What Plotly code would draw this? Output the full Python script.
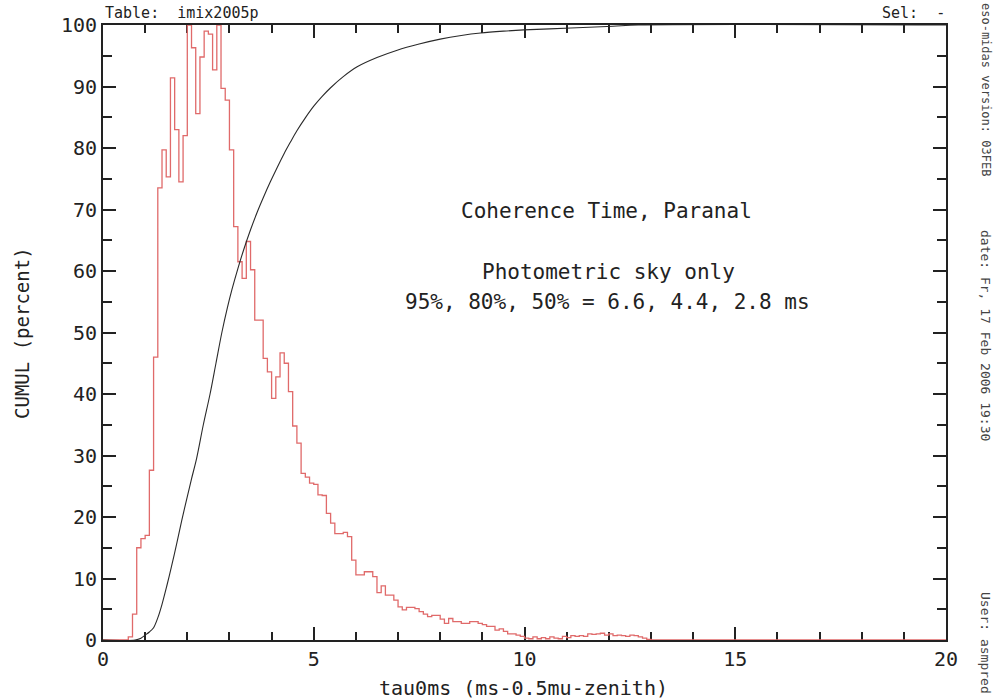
import numpy as np
import plotly.graph_objects as go

# ---- data ----
# histogram (normalised to peak = 100), bin width 0.1 ms, left bin edges from 0.6
hist_start = 0.6
hist_width = 0.1
hist_vals = [
    0.5, 4.2, 15.0, 16.5, 17.0, 27.6, 46.0, 73.5, 79.7, 75.3,
    91.4, 83.0, 74.5, 82.0, 100.0, 96.3, 85.6, 94.8, 99.0, 98.5,
    92.7, 100.0, 89.7, 87.8, 79.7, 67.2, 61.5, 58.8, 64.8, 60.2,
    52.0, 52.0, 45.8, 43.6, 39.3, 42.8, 46.7, 45.0, 40.4, 34.8,
    32.0, 27.1, 26.5, 25.5, 25.3, 23.6, 23.5, 20.6, 19.0, 17.3,
    17.3, 17.5, 16.8, 13.0, 10.6, 10.6, 11.1, 11.1, 10.3, 7.7,
    8.8, 7.3, 7.3, 6.5, 5.4, 4.9, 5.3, 5.3, 5.1, 4.6,
    4.2, 3.8, 4.0, 4.0, 3.4, 2.7, 3.5, 3.0, 3.0, 2.7,
    2.7, 3.0, 3.0, 2.7, 2.5, 2.2, 2.2, 1.6, 1.8, 1.4,
    1.0, 1.0, 0.8, 0.6, 0.3, 0.2, 0.5, 0.2, 0.4, 0.2,
    0.5, 0.3, 0.2, 0.6, 0.4, 0.7, 0.6, 0.7, 0.6, 1.0,
    0.9, 1.0, 1.1, 0.8, 1.0, 0.7, 0.8, 0.7, 0.6, 0.8,
    0.7, 0.5, 0.3, 0.1,
]

# cumulative distribution (percent)
cum_x = [0, 0.76, 0.9, 1.0, 1.1, 1.2, 1.31, 1.4, 1.51, 1.62, 1.75, 1.87, 2.0,
         2.1, 2.22, 2.38, 2.54, 2.68, 2.82, 2.95, 3.06, 3.2, 3.34, 3.5, 3.66,
         3.82, 3.97, 4.13, 4.29, 4.45, 4.6, 4.8, 5.0, 5.2, 5.4, 5.7, 6.03, 6.5,
         6.98, 7.5, 8.0, 8.5, 8.96, 9.5, 9.98, 11.1, 12.1, 12.7, 20]
cum_y = [0, 0, 0.3, 0.8, 1.3, 2.0, 3.8, 5.8, 8.7, 11.8, 15.7, 19.5, 23.3,
         26.2, 29.5, 35.0, 40.0, 45.0, 50.0, 54.0, 57.0, 60.4, 63.5, 66.7, 69.6,
         72.2, 74.5, 76.8, 79.0, 81.0, 82.8, 84.9, 86.8, 88.4, 89.8, 91.6, 93.2, 94.7,
         95.9, 96.9, 97.7, 98.3, 98.7, 99.0, 99.2, 99.5, 99.8, 100, 100]

x_range = [0, 20]
y_range = [0, 100]

# ---- build step line from bins ----
edges = [round(hist_start + i * hist_width, 2) for i in range(len(hist_vals))]
hx = [0.0] + edges + [round(edges[-1] + hist_width, 2), 20.0]
hy = [0.0] + hist_vals + [0.0, 0.0]

MONO = "DejaVu Sans Mono"
INK = "#222222"

fig = go.Figure()
fig.add_trace(go.Scatter(x=hx, y=hy, mode="lines", line_shape="hv",
                         line=dict(color="#e06a6a", width=1.3),
                         cliponaxis=False, hoverinfo="skip", showlegend=False))
fig.add_trace(go.Scatter(x=cum_x, y=cum_y, mode="lines", line_shape="spline",
                         line=dict(color="#2a2a2a", width=1.1, smoothing=0.9),
                         cliponaxis=False, hoverinfo="skip", showlegend=False))

L, R, T, B = 103, 48, 25, 59
W, H = 994, 699
pw, ph = W - L - R, H - T - B

def px(xp):
    return (xp - L) / pw

def py(yp):
    return (H - B - yp) / ph

axis_common = dict(showline=True, linewidth=2, linecolor=INK, mirror="ticks",
                   ticks="inside", tickwidth=2, tickcolor=INK,
                   showgrid=False, zeroline=False, layer="below traces",
                   tickfont=dict(family=MONO, size=20, color=INK))

fig.update_xaxes(range=x_range, dtick=5, tick0=0, ticklen=13,
                 minor=dict(dtick=1, tick0=0, ticks="inside", ticklen=8, tickwidth=1.5,
                            tickcolor=INK, showgrid=False),
                 **axis_common)
fig.update_yaxes(range=y_range, dtick=10, tick0=0, ticklen=13,
                 minor=dict(dtick=5, tick0=0, ticks="inside", ticklen=9, tickwidth=1.5,
                            tickcolor=INK, showgrid=False),
                 **axis_common)

ann = []
def text(x, y, s, size, xanchor="center", angle=0, color=INK):
    ann.append(dict(x=x, y=y, xref="paper", yref="paper", text=s, showarrow=False,
                    xanchor=xanchor, yanchor="middle", textangle=angle,
                    font=dict(family=MONO, size=size, color=color)))

text(px(103), py(13), "Table:  imix2005p", 15, xanchor="left")
text(px(947), py(13), "Sel:  -", 15, xanchor="right")
text(px(606), py(211), "Coherence Time, Paranal", 21)
text(px(608), py(272), "Photometric sky only", 21)
text(px(607), py(302), "95%, 80%, 50% = 6.6, 4.4, 2.8 ms", 21)
text(px(22), py(333), "CUMUL (percent)", 19, angle=-90)
text(px(523), py(688), "tau0ms (ms-0.5mu-zenith)", 20)
text(px(986), py(89), "eso-midas version: 03FEB", 12, angle=90, color="#444")
text(px(986), py(335), "date: Fr, 17 Feb 2006 19:30", 13, angle=90, color="#444")
text(px(986), py(643), "User: asmpred", 13, angle=90, color="#444")

fig.update_layout(width=W, height=H, margin=dict(l=L, r=R, t=T, b=B),
                  paper_bgcolor="white", plot_bgcolor="white",
                  annotations=ann, showlegend=False)

fig.write_html("out.html")
